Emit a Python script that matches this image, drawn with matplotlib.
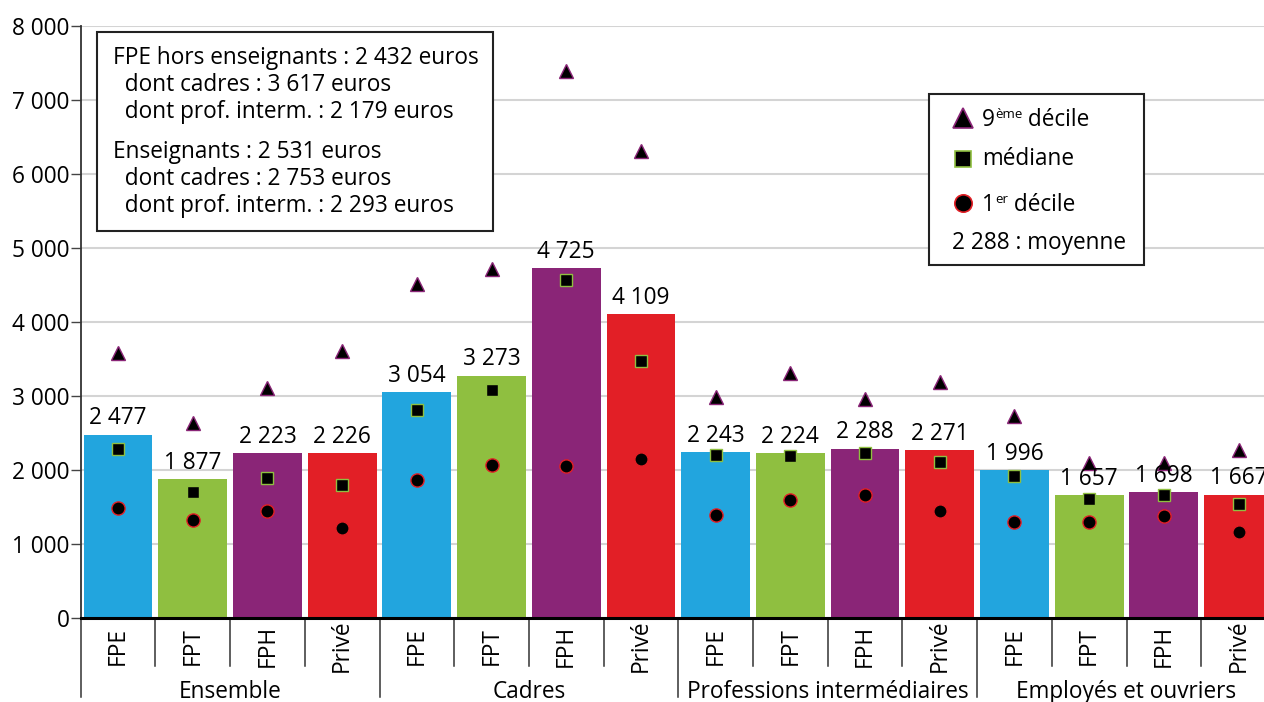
import matplotlib
matplotlib.use("Agg")
import matplotlib.pyplot as plt
from matplotlib.patches import Rectangle
from matplotlib.lines import Line2D
from matplotlib.ticker import FuncFormatter

plt.rcParams['font.family'] = ['Open Sans', 'DejaVu Sans']

# ---------------- data ----------------
groups = ["Ensemble", "Cadres", "Professions intermédiaires", "Employés et ouvriers"]
sectors = ["FPE", "FPT", "FPH", "Privé"]
moyenne = [2477, 1877, 2223, 2226,
           3054, 3273, 4725, 4109,
           2243, 2224, 2288, 2271,
           1996, 1657, 1698, 1667]
decile9 = [3576, 2632, 3104, 3603,
           4507, 4710, 7395, 6316,
           2982, 3306, 2955, 3185,
           2726, 2090, 2090, 2267]
mediane = [2280, 1700, 1889, 1795,
           2807, 3077, 4561, 3468,
           2200, 2186, 2227, 2105,
           1916, 1606, 1660, 1538]
decile1 = [1484, 1322, 1444, 1215,
           1862, 2065, 2051, 2146,
           1390, 1592, 1660, 1444,
           1296, 1296, 1377, 1160]
sector_colors = {"FPE": "#22A5DE", "FPT": "#8FBF40", "FPH": "#8A2577", "Privé": "#E21F26"}
yticks = [0, 1000, 2000, 3000, 4000, 5000, 6000, 7000, 8000]
note_lines = ["FPE hors enseignants : 2 432 euros",
              "  dont cadres : 3 617 euros",
              "  dont prof. interm. : 2 179 euros",
              "Enseignants : 2 531 euros",
              "  dont cadres : 2 753 euros",
              "  dont prof. interm. : 2 293 euros"]

W, H = 1264, 702
FS = 16.3
fig = plt.figure(figsize=(W / 100, H / 100), dpi=100)

def fx(x):
    return x / W

def fy(y):
    return 1 - y / H

ax = fig.add_axes([fx(80.7), fy(618), 1 - fx(80.7), fy(26) - fy(618)])

n = len(moyenne)
xs = list(range(n))
labels = [sectors[i % 4] for i in xs]
colors = [sector_colors[l] for l in labels]

ax.bar(xs, moyenne, width=0.92, color=colors, zorder=2)
ax.plot(xs, decile9, linestyle="none", marker="^", markersize=10.5,
        markerfacecolor="black", markeredgecolor="#8A2577", markeredgewidth=1.0, zorder=4)
ax.plot(xs, mediane, linestyle="none", marker="s", markersize=8.5,
        markerfacecolor="black", markeredgecolor="#8FBF40", markeredgewidth=1.0, zorder=4)
ax.plot(xs, decile1, linestyle="none", marker="o", markersize=9.5,
        markerfacecolor="black", markeredgecolor="#E21F26", markeredgewidth=1.0, zorder=4)

for x, v in zip(xs, moyenne):
    ax.annotate(f"{v:,}".replace(",", " "), (x, v), xytext=(0, 7.5),
                textcoords="offset points", ha="center", va="baseline",
                fontsize=FS, zorder=5)

ax.set_xlim(-0.5, -0.5 + (W - 80.7) / 74.7)
ax.set_ylim(0, 8000)
ax.set_yticks(yticks)
ax.yaxis.set_major_formatter(FuncFormatter(lambda v, p: f"{int(v):,}".replace(",", " ")))
ax.tick_params(axis="y", labelsize=FS, length=7, width=1, color="#444444", pad=1)
ax.set_xticks([])
ax.grid(axis="y", color="#d4d4d4", linewidth=1.5, zorder=0)
ax.set_axisbelow(True)
for s in ["top", "right"]:
    ax.spines[s].set_visible(False)
ax.spines["left"].set_color("#333333")
ax.spines["left"].set_linewidth(1.3)
ax.spines["bottom"].set_color("black")
ax.spines["bottom"].set_linewidth(2.2)
ax.spines["bottom"].set_zorder(6)

# separators and category labels below axis
trans = ax.get_xaxis_transform()
ax_h_px = 618 - 26
for k in range(n + 1):
    xb = k - 0.5
    if k % 4 == 0:
        y2 = -(697 - 618) / ax_h_px
    else:
        y2 = -(666 - 618) / ax_h_px
    ax.plot([xb, xb], [0, y2], transform=trans, color="#333333", lw=1.1, clip_on=False)
for x, l in zip(xs, labels):
    ax.text(x, -(646 - 618) / ax_h_px, l, transform=trans, rotation=90,
            ha="center", va="center", fontsize=FS, rotation_mode="anchor")
for g, name in enumerate(groups):
    ax.text(g * 4 + 1.5, -(698 - 618) / ax_h_px, name, transform=trans,
            ha="center", va="baseline", fontsize=FS)

# note box
fig.add_artist(Rectangle((fx(97), fy(231)), fx(493) - fx(97), fy(32) - fy(231),
                         transform=fig.transFigure, facecolor="white",
                         edgecolor="#222222", linewidth=1.5, zorder=10))
note_y = [58, 85, 112, 152, 179, 206]
for t, yy in zip(note_lines, note_y):
    fig.text(fx(113), fy(yy), t, ha="left", va="center", fontsize=FS, zorder=11)

# legend box
fig.add_artist(Rectangle((fx(929), fy(265)), fx(1144) - fx(929), fy(94) - fy(265),
                         transform=fig.transFigure, facecolor="white",
                         edgecolor="#222222", linewidth=1.5, zorder=10))
fig.add_artist(Line2D([fx(963)], [fy(118)], transform=fig.transFigure, marker="^",
                      markersize=14, markerfacecolor="black", markeredgecolor="#8A2577",
                      markeredgewidth=1.2, zorder=11))
fig.add_artist(Line2D([fx(963)], [fy(159)], transform=fig.transFigure, marker="s",
                      markersize=11.5, markerfacecolor="black", markeredgecolor="#8FBF40",
                      markeredgewidth=1.2, zorder=11))
fig.add_artist(Line2D([fx(963)], [fy(203)], transform=fig.transFigure, marker="o",
                      markersize=12.5, markerfacecolor="black", markeredgecolor="#E21F26",
                      markeredgewidth=1.2, zorder=11))

renderer = fig.canvas.get_renderer()

def rich(x0, yb, parts):
    x = x0
    for txt, size, rise in parts:
        t = fig.text(fx(x), fy(yb - rise), txt, ha="left", va="baseline",
                     fontsize=size, zorder=11)
        w = t.get_window_extent(renderer).width
        x += w

rich(982, 126, [("9", FS, 0), ("ème", 9.5, 8), (" décile", FS, 0)])
fig.text(fx(982), fy(159), "médiane", ha="left", va="center", fontsize=FS, zorder=11)
rich(982, 211, [("1", FS, 0), ("er", 9.5, 8), (" décile", FS, 0)])
fig.text(fx(952), fy(243), "2 288 : moyenne", ha="left", va="center", fontsize=FS, zorder=11)

fig.savefig("out.png", dpi=100)
